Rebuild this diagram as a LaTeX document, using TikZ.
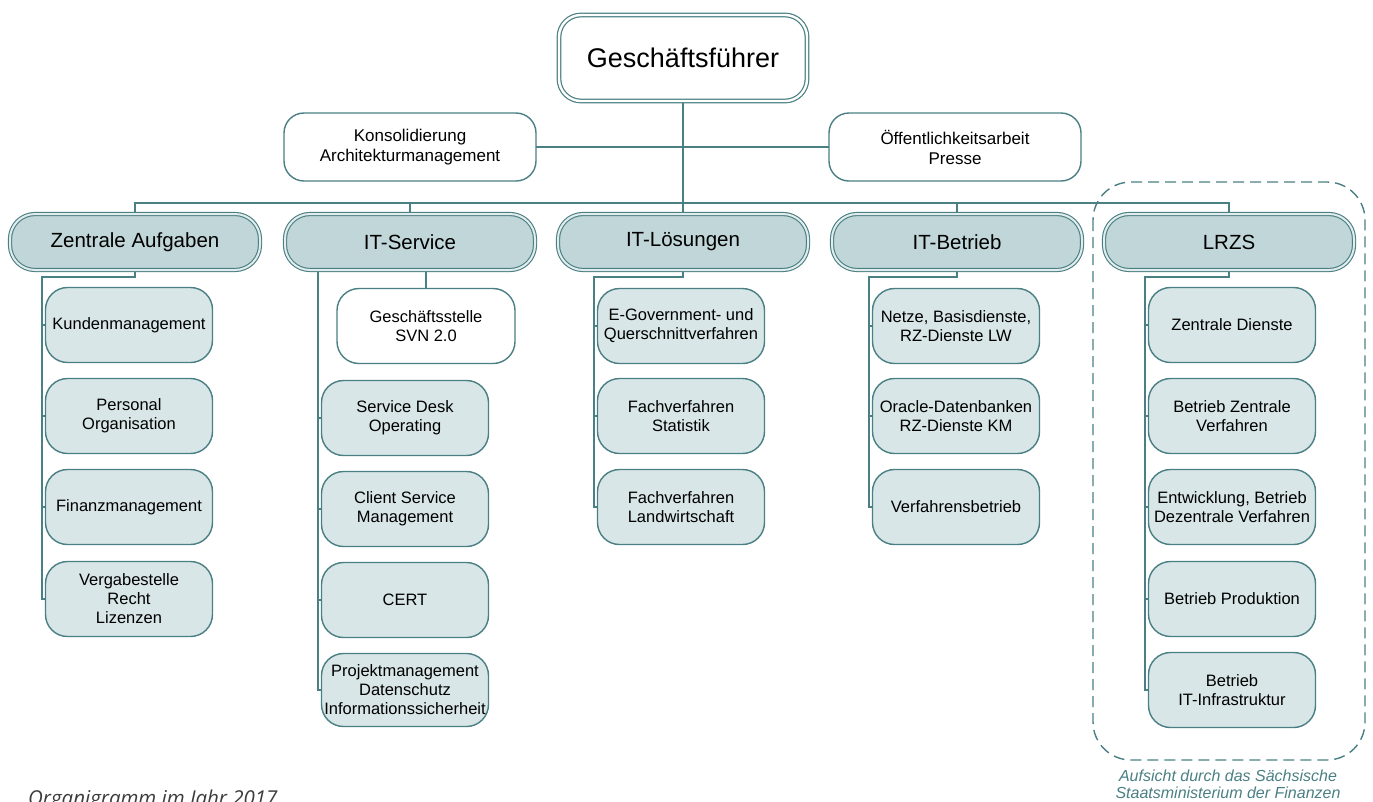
\documentclass[tikz,border=0pt]{standalone}
\usepackage{fontspec}
\setmainfont{Liberation Sans}
\newfontfamily\yearfont{Open Sans}
\usepackage{tikz}
\usetikzlibrary{calc,positioning,backgrounds}

\definecolor{tealline}{RGB}{74,127,131}
\definecolor{deptfill}{RGB}{192,214,216}
\definecolor{deptgap}{RGB}{226,236,237}
\definecolor{unitfill}{RGB}{216,230,231}
\definecolor{yeartext}{RGB}{60,60,60}

\tikzset{
	chief/.style={draw=tealline, double=white, double distance=2.4pt, line width=1.2pt,
		rounded corners=22pt, minimum width=248, minimum height=86, outer sep=0pt,
		font=\fontsize{27}{32}\selectfont},
	staff/.style={draw=tealline, fill=white, line width=1.4pt, rounded corners=20pt,
		minimum width=252, minimum height=68, align=center, outer sep=0pt,
		font=\fontsize{17}{20}\selectfont},
	dept/.style={draw=tealline, fill=deptfill, double=deptgap, double distance=2pt, line width=1.1pt,
		rounded corners=25pt, minimum width=250, minimum height=56, outer sep=0pt,
		font=\fontsize{20.5}{24}\selectfont},
	unit/.style={draw=tealline, fill=unitfill, line width=1.4pt, rounded corners=22pt,
		minimum width=167, minimum height=75, align=center, inner sep=1pt, outer sep=0pt,
		font=\fontsize{16.5}{19}\selectfont},
	office/.style={unit, fill=white, minimum width=178},
	link/.style={draw=tealline, line width=2pt},
	frame/.style={draw=tealline, line width=1.4pt, dash pattern=on 11pt off 6pt, rounded corners=38pt},
	note/.style={text=tealline, align=center, font=\itshape\fontsize{16}{17}\selectfont}
}

\begin{document}
\begin{tikzpicture}[x=1pt,y=-1pt]
		\useasboundingbox (0,0) rectangle (1373,801);

		\node[chief] (gf) at (683,58) {Geschäftsführer};
		\node[staff] (kons) at (410,147) {Konsolidierung\\Architekturmanagement};
		\node[staff] (oeff) at (955,147) {Öffentlichkeitsarbeit\\Presse};

		% departments
		\node[dept] (za) at (135,242) {Zentrale Aufgaben};
		\node[dept] (its) at (410,242) {IT-Service};
		\node[dept] (itl) at (683,242) {IT-Lösungen};
		\node[dept] (itb) at (957,242) {IT-Betrieb};
		\node[dept] (lrzs) at (1229,242) {LRZS};

		% Zentrale Aufgaben
		\node[unit] (za1) at (129,325) {Kundenmanagement};
		\node[unit] (za2) at (129,416) {Personal\\Organisation};
		\node[unit] (za3) at (129,507) {Finanzmanagement};
		\node[unit] (za4) at (129,599) {Vergabestelle\\Recht\\Lizenzen};

		% IT-Service
		\node[office] (gst) at (426,326) {Geschäftsstelle\\SVN 2.0};
		\node[unit] (its1) at (405,418) {Service Desk\\Operating};
		\node[unit] (its2) at (405,509) {Client Service\\Management};
		\node[unit] (its3) at (405,600) {CERT};
		\node[unit, minimum height=73] (its4) at (405,690) {Projektmanagement\\Datenschutz\\Informationssicherheit};

		% IT-Loesungen
		\node[unit] (itl1) at (681,326) {E-Government- und\\Querschnittverfahren};
		\node[unit] (itl2) at (681,416) {Fachverfahren\\Statistik};
		\node[unit] (itl3) at (681,507) {Fachverfahren\\Landwirtschaft};

		% IT-Betrieb
		\node[unit] (itb1) at (956,326) {Netze, Basisdienste,\\RZ-Dienste LW};
		\node[unit] (itb2) at (956,416) {Oracle-Datenbanken\\RZ-Dienste KM};
		\node[unit] (itb3) at (956,507) {Verfahrensbetrieb};

		% LRZS
		\node[unit] (lrzs1) at (1232,325) {Zentrale Dienste};
		\node[unit] (lrzs2) at (1232,416) {Betrieb Zentrale\\Verfahren};
		\node[unit] (lrzs3) at (1232,507) {Entwicklung, Betrieb\\Dezentrale Verfahren};
		\node[unit] (lrzs4) at (1232,599) {Betrieb Produktion};
		\node[unit] (lrzs5) at (1232,690) {Betrieb\\IT-Infrastruktur};

		\draw[frame] (1093,182) rectangle (1365,760);
		\node[note] (aufsicht) at (1228,784) {Aufsicht durch das Sächsische\\Staatsministerium der Finanzen};
		\node[anchor=base west, inner sep=0pt, text=yeartext, font=\yearfont\itshape\fontsize{20.5}{24}\selectfont] (jahr) at (28,805) {Organigramm im Jahr 2017};

		\begin{scope}[on background layer]
			\draw[link] (gf.south) -- (itl.north);
			\draw[link] (kons.east) -- (oeff.west);
			\draw[link] (za.north) -- ++(0,-11) -| (lrzs.north);
			\draw[link] (its.north) -- ++(0,-11);
			\draw[link] (itb.north) -- ++(0,-11);

			\draw[link] (za.south) -- ++(0,7) -| ([xshift=-4pt]za4.west) -- (za4.west);
			\draw[link] (za1.west) -- ++(-4,0);
			\draw[link] (za2.west) -- ++(-4,0);
			\draw[link] (za3.west) -- ++(-4,0);

			\draw[link] (its4.west) -- ++(-4,0) coordinate (itscol) -- (itscol |- its.south);
			\draw[link] (its1.west) -- ++(-4,0);
			\draw[link] (its2.west) -- ++(-4,0);
			\draw[link] (its3.west) -- ++(-4,0);
			\draw[link] (its.south -| gst.north) -- (gst.north);

			\draw[link] (itl.south) -- ++(0,7) -| ([xshift=-4pt]itl3.west) -- (itl3.west);
			\draw[link] (itl1.west) -- ++(-4,0);
			\draw[link] (itl2.west) -- ++(-4,0);

			\draw[link] (itb.south) -- ++(0,7) -| ([xshift=-4pt]itb3.west) -- (itb3.west);
			\draw[link] (itb1.west) -- ++(-4,0);
			\draw[link] (itb2.west) -- ++(-4,0);

			\draw[link] (lrzs.south) -- ++(0,7) -| ([xshift=-4pt]lrzs5.west) -- (lrzs5.west);
			\draw[link] (lrzs1.west) -- ++(-4,0);
			\draw[link] (lrzs2.west) -- ++(-4,0);
			\draw[link] (lrzs3.west) -- ++(-4,0);
			\draw[link] (lrzs4.west) -- ++(-4,0);
		\end{scope}
	\end{tikzpicture}
\end{document}
